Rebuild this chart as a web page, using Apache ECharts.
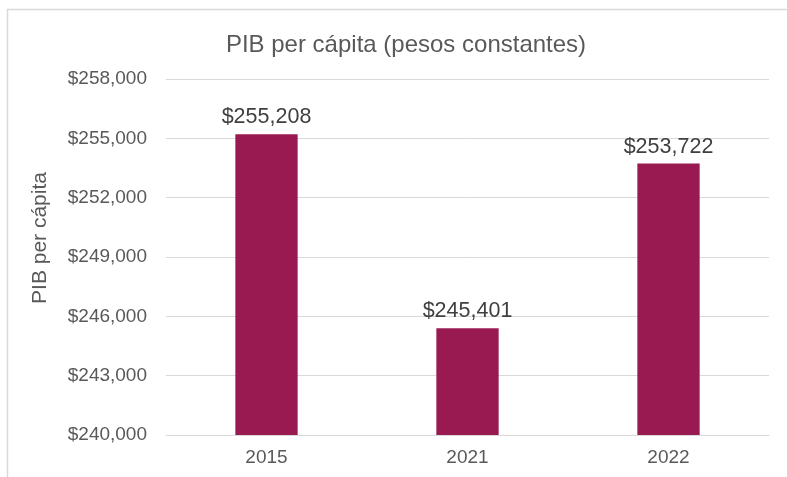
<!DOCTYPE html>
<html><head><meta charset="utf-8">
<script src="https://cdn.jsdelivr.net/npm/echarts@6/dist/echarts.min.js"></script>
<style>html,body{margin:0;padding:0;background:#fff}#c{width:787px;height:477px}</style>
</head><body><div id="c"></div>
<script>
const categories = ['2015', '2021', '2022'];
const values = [255208, 245401, 253722];
const yMin = 240000, yMax = 258000, yStep = 3000;
const fmt = v => '$' + v.toLocaleString('en-US');
const chart = echarts.init(document.getElementById('c'));
chart.setOption({
  animation: false,
  backgroundColor: '#fff',
  graphic: [{type:'rect', shape:{x:7.5,y:9.5,width:900,height:600}, style:{fill:'none', stroke:'#d9d9d9', lineWidth:1.5}, z:-1}],
  title: {text:'PIB per cápita (pesos constantes)', left:401, textAlign:'center', top:28,
    textStyle:{fontFamily:'Liberation Sans, Arial', fontSize:24, fontWeight:'normal', color:'#595959'}},
  grid: {left:166, right:18, top:79, bottom:42},
  xAxis: {type:'category', data:categories,
    axisLine:{lineStyle:{color:'#d9d9d9', width:1}}, axisTick:{show:false},
    axisLabel:{fontFamily:'Liberation Sans, Arial', fontSize:19, color:'#595959', margin:13}},
  yAxis: {type:'value', min:yMin, max:yMax, interval:yStep,
    name:'PIB per cápita', nameLocation:'middle', nameGap:115, nameRotate:90,
    nameTextStyle:{fontFamily:'Liberation Sans, Arial', fontSize:21, color:'#595959', padding:[0,0,0,38]},
    axisLine:{show:false}, axisTick:{show:false},
    splitLine:{lineStyle:{color:'#d9d9d9', width:1}},
    axisLabel:{fontFamily:'Liberation Sans, Arial', fontSize:19, color:'#595959', margin:19, formatter:fmt}},
  series: [{type:'bar', data:values, barWidth:'31%', itemStyle:{color:'#981a50'},
    label:{show:true, position:'top', distance:6, formatter:p=>fmt(p.value),
      fontFamily:'Liberation Sans, Arial', fontSize:21.5, color:'#404040'}}]
});
</script></body></html>
